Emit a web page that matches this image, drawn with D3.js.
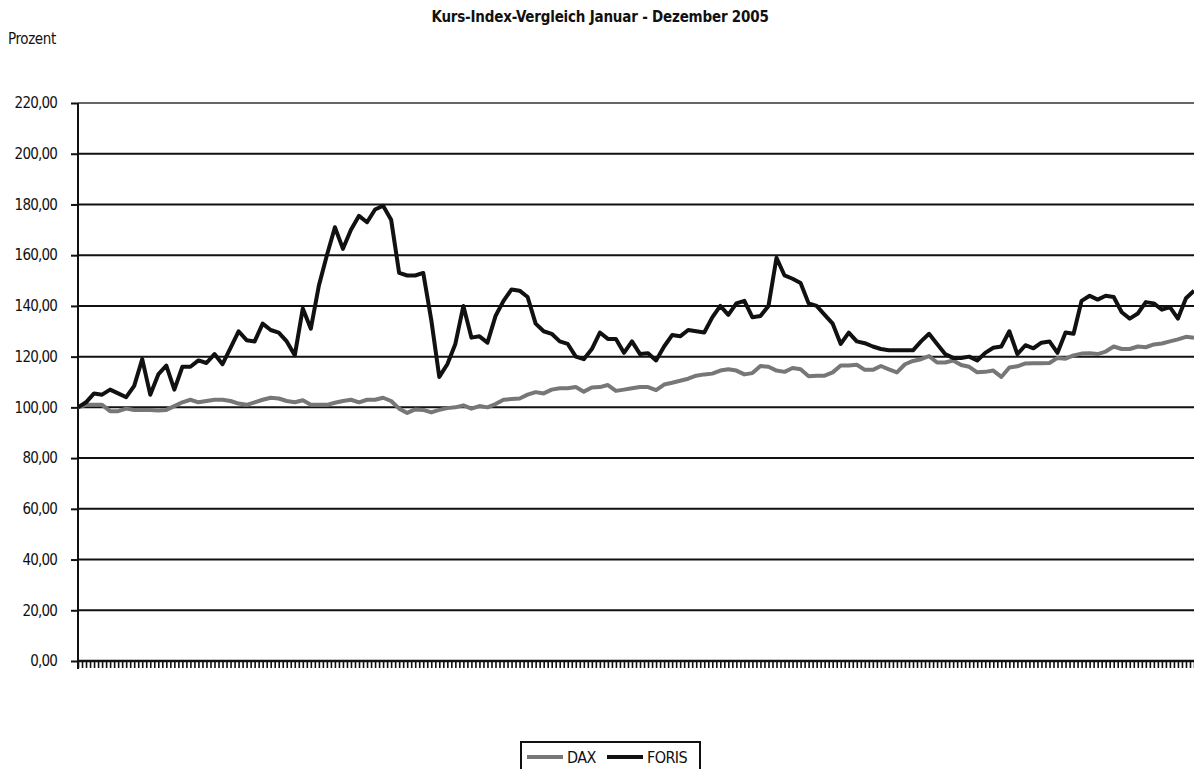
<!DOCTYPE html>
<html>
<head>
<meta charset="utf-8">
<script src="https://cdnjs.cloudflare.com/ajax/libs/d3/7.8.5/d3.min.js"></script>
<style>
  body { margin: 0; background: #fff; }
  svg text { font-family: "Liberation Sans Narrow", "DejaVu Sans Condensed", "Open Sans", sans-serif; fill: #111; }
</style>
</head>
<body>
<svg id="chart"></svg>
<script>
// Series values (index %, start = 100)
const seriesNames = ["DAX", "FORIS"];

const dax = [
  100, 101, 101, 101, 98.5, 98.5, 99.5, 99, 99, 99,
  98.8, 99, 100.5, 102, 103, 102, 102.5, 103, 103, 102.5,
  101.5, 101, 102, 103, 103.8, 103.5, 102.5, 102, 102.8, 101,
  101, 101, 101.8, 102.5, 103, 102, 103, 103, 103.8, 102.5,
  99.5, 97.8, 99.2, 99, 98, 99, 99.7, 100, 100.8, 99.5,
  100.5, 100, 101.3, 103, 103.3, 103.5, 105, 106, 105.5, 107,
  107.5, 107.5, 108, 106.2, 107.8, 108, 108.8, 106.5, 107, 107.5,
  108, 108, 106.8, 109, 109.7, 110.5, 111.3, 112.5, 113, 113.3,
  114.5, 115, 114.5, 113, 113.5, 116.3, 116, 114.5, 114, 115.5,
  115, 112.3, 112.5, 112.5, 113.8, 116.5, 116.5, 116.8, 114.8, 114.8,
  116.3, 115, 113.8, 117, 118.3, 119, 120.2, 117.7, 117.7, 118.5,
  116.7, 116, 113.8, 114, 114.5, 112, 115.7, 116.2, 117.3, 117.4,
  117.4, 117.5, 119.5, 119.2, 120.5, 121.2, 121.3, 121, 122, 124,
  123, 123, 124, 123.7, 124.8, 125.2, 126, 126.8, 127.8, 127.4
];

const foris = [
  100, 102, 105.5, 105, 107, 105.5, 104, 108.5, 119, 105,
  113, 116.5, 107, 116, 116, 118.5, 117.5, 121, 117, 123.5,
  130, 126.5, 126, 133, 130.5, 129.5, 126, 120.5, 139, 131,
  148, 160, 171, 162.5, 170, 175.5, 173, 178, 179.5, 174,
  153, 152, 152, 153, 134.5, 112, 117, 125, 140, 127.5,
  128, 125.5, 136, 142, 146.5, 146, 143.5, 133, 130, 129,
  126, 125, 120, 119, 123, 129.5, 127, 127, 121.5, 126,
  121, 121.3, 118.5, 124, 128.5, 128, 130.5, 130, 129.5, 135.5,
  140, 136.5, 141, 142, 135.5, 136, 140, 159, 152, 150.7,
  149, 141, 140, 136.5, 133, 125, 129.5, 126, 125.3, 124,
  123, 122.5, 122.5, 122.5, 122.5, 126, 129, 125, 121, 119.5,
  119.5, 120, 118.5, 121.5, 123.5, 124, 130, 121, 124.5, 123.3,
  125.5, 126, 121.5, 129.5, 129, 142, 144, 142.5, 144, 143.5,
  137.5, 135, 137, 141.5, 141, 138.5, 139.5, 135, 143, 146
];

const yTicks = [0, 20, 40, 60, 80, 100, 120, 140, 160, 180, 200, 220];

const titleText = "Kurs-Index-Vergleich Januar - Dezember 2005";
const yUnit = "Prozent";

// Layout
const W = 1194, H = 769;
const plot = { left: 78, right: 1194, top: 103, bottom: 661 };

const svg = d3.select("#chart")
    .attr("width", W)
    .attr("height", H);

const x = d3.scaleLinear()
    .domain([0, foris.length - 1])
    .range([plot.left, plot.right]);

const y = d3.scaleLinear()
    .domain([0, 220])
    .range([plot.bottom, plot.top]);

// Title and unit
svg.append("text")
    .attr("x", 600)
    .attr("y", 22)
    .attr("text-anchor", "middle")
    .style("font-size", "15px")
    .style("font-weight", "bold")
    .style("letter-spacing", "-0.2px")
    .text(titleText);

svg.append("text")
    .attr("x", 8)
    .attr("y", 44)
    .style("font-size", "15px")
    .style("letter-spacing", "-0.4px")
    .text(yUnit);

// Horizontal gridlines
svg.append("g")
    .selectAll("line")
    .data(yTicks.filter(d => d > 0))
    .join("line")
    .attr("x1", plot.left)
    .attr("x2", plot.right)
    .attr("y1", d => y(d))
    .attr("y2", d => y(d))
    .attr("stroke", d => d === 220 ? "#666" : "#111")
    .attr("stroke-width", 2);

// Y axis
const yAxis = svg.append("g")
    .attr("transform", `translate(${plot.left},0)`)
    .call(d3.axisLeft(y)
        .tickValues(yTicks)
        .tickSize(7)
        .tickPadding(14)
        .tickFormat(d => d3.format(".2f")(d).replace(".", ",")));

yAxis.select(".domain")
    .attr("d", `M0,${plot.top}V${plot.bottom + 8}`)
    .attr("stroke", "#111")
    .attr("stroke-width", 2);
yAxis.selectAll(".tick line").attr("stroke", "#111").attr("stroke-width", 2);
yAxis.selectAll(".tick text")
    .style("font-size", "15px")
    .style("letter-spacing", "-0.8px")
    .attr("fill", "#111");

// X axis: category ticks only, no labels
const xTicks = d3.range(0, foris.length - 0.75, 0.5);
const xAxis = svg.append("g")
    .attr("transform", `translate(0,${plot.bottom})`)
    .call(d3.axisBottom(x)
        .tickValues(xTicks)
        .tickSize(7)
        .tickFormat(""));

xAxis.select(".domain")
    .attr("d", `M${plot.left},0H${plot.right}`)
    .attr("stroke", "#111")
    .attr("stroke-width", 2.5);
xAxis.selectAll(".tick line").attr("stroke", "#111").attr("stroke-width", 1.6);

// Lines
const line = d3.line()
    .x((d, i) => x(i))
    .y(d => y(d));

svg.append("path")
    .datum(dax)
    .attr("fill", "none")
    .attr("stroke", "#777")
    .attr("stroke-width", 4)
    .attr("stroke-linejoin", "round")
    .attr("d", line);

svg.append("path")
    .datum(foris)
    .attr("fill", "none")
    .attr("stroke", "#111")
    .attr("stroke-width", 4)
    .attr("stroke-linejoin", "round")
    .attr("d", line);

// Legend
const legend = svg.append("g").attr("transform", "translate(521,742)");

legend.append("rect")
    .attr("x", 0)
    .attr("y", 0)
    .attr("width", 179)
    .attr("height", 40)
    .attr("fill", "#fff")
    .attr("stroke", "#111")
    .attr("stroke-width", 2);

const legendColors = { DAX: "#777", FORIS: "#111" };
const legendX = [6, 86];

seriesNames.forEach((name, i) => {
    const lx = legendX[i];
    legend.append("line")
        .attr("x1", lx)
        .attr("x2", lx + 36)
        .attr("y1", 15)
        .attr("y2", 15)
        .attr("stroke", legendColors[name])
        .attr("stroke-width", 4);
    legend.append("text")
        .attr("x", lx + 40)
        .attr("y", 21)
        .style("font-size", "16px")
        .style("letter-spacing", "-0.6px")
        .text(name);
});
</script>
</body>
</html>
